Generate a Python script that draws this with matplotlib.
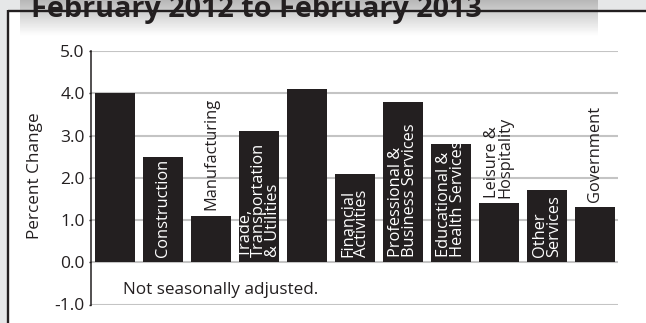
import matplotlib
matplotlib.use("Agg")
import matplotlib.pyplot as plt
import numpy as np

# Data
categories = ["", "Construction", "Manufacturing",
              "Trade,\nTransportation\n& Utilities", "",
              "Financial\nActivities", "Professional &\nBusiness Services",
              "Educational &\nHealth Services", "Leisure &\nHospitality",
              "Other\nServices", "Government"]
values = [4.0, 2.5, 1.1, 3.1, 4.1, 2.1, 3.8, 2.8, 1.4, 1.7, 1.3]
label_inside = [True, True, False, True, True, True, True, True, False, True, False]
yticks = [-1.0, 0.0, 1.0, 2.0, 3.0, 4.0, 5.0]

title = "February 2012 to February 2013"
note = "Not seasonally adjusted."

W, H = 646, 323
dark = "#231f20"
grid_col = "#c4c4c4"

plt.rcParams["font.family"] = ["Open Sans", "DejaVu Sans"]

fig = plt.figure(figsize=(W / 100, H / 100), dpi=100, facecolor="white")

# background layer in pixel coordinates
bg = fig.add_axes([0, 0, 1, 1], zorder=0)
bg.set_xlim(0, W)
bg.set_ylim(H, 0)
bg.axis("off")
bg.add_patch(plt.Rectangle((0, 0), W, 11, color="#e6e7e8", lw=0))
bg.add_patch(plt.Rectangle((0, 0), 7.5, H, color="#e6e7e8", lw=0))
grad = np.linspace(0.72, 1.0, 64).reshape(-1, 1)
bg.imshow(grad, cmap="gray", vmin=0, vmax=1, extent=(20, 598, 36, 0),
          aspect="auto", zorder=1)
bg.plot([7.5, W], [10.5, 10.5], color=dark, lw=1.7, zorder=2,
        solid_capstyle="butt")
bg.plot([7.5, 7.5], [9.5, H], color=dark, lw=1.7, zorder=2,
        solid_capstyle="butt")
bg.text(31, 17.5, title, fontsize=20.8, fontweight="bold", color=dark,
        va="baseline", ha="left", zorder=3)

# chart axes
ax = fig.add_axes([91 / W, 1 - 304.5 / H, (618 - 91) / W, (304.5 - 51) / H],
                  zorder=1)
ax.set_facecolor("none")
x = np.arange(len(values))
ax.bar(x, values, width=40 / 48, color=dark, zorder=3)
for t in yticks:
    ax.axhline(t, color=grid_col, lw=1.5, zorder=1)

for i, (lab, v, inside) in enumerate(zip(categories, values, label_inside)):
    if not lab:
        continue
    y0 = 0.13 if inside else v + 0.13
    ax.text(i, y0, lab, rotation=90, ha="center", va="bottom",
            multialignment="left", color="white" if inside else dark,
            fontsize=11.8, linespacing=0.8, zorder=4)

ax.text(0.17, -0.66, note, fontsize=12.3, color=dark, va="center", ha="left")

ax.set_xlim(-0.5, 10.48)
ax.set_ylim(-1, 5)
ax.set_yticks(yticks)
ax.set_yticklabels([f"{t:.1f}" for t in yticks], fontsize=12.5, color=dark)
ax.set_xticks([])
for s in ["top", "right", "bottom"]:
    ax.spines[s].set_visible(False)
ax.spines["left"].set_color(dark)
ax.spines["left"].set_linewidth(1.1)
ax.spines["left"].set_zorder(5)
ax.tick_params(axis="y", length=1.5, width=1, color=dark, pad=3)

fig.text(35 / W, 1 - 176 / H, "Percent Change", rotation=90, fontsize=12.3,
         color=dark, ha="center", va="center")

fig.savefig("out.png", dpi=100)
